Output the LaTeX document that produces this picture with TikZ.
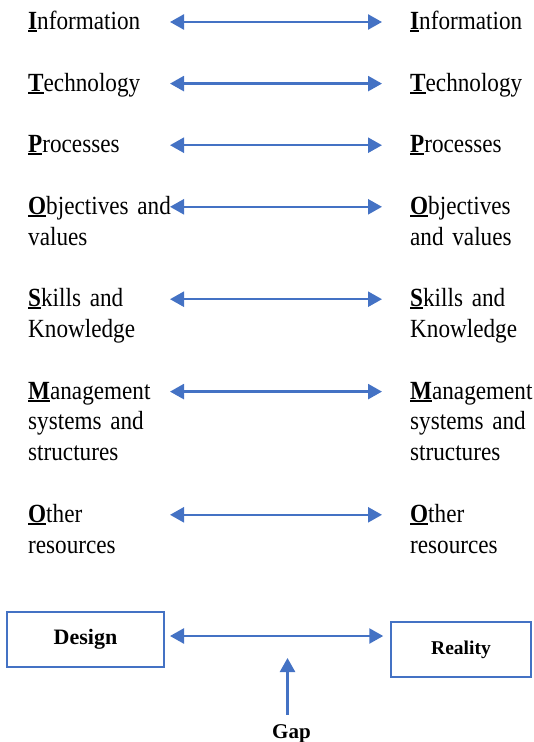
\documentclass[tikz,border=0pt]{standalone}
\usepackage{fontspec}
\setmainfont{Liberation Serif}[FakeStretch=0.885]
\newfontfamily\boxfont{Liberation Serif}
\usetikzlibrary{arrows.meta}
\definecolor{linkblue}{HTML}{4472C4}
\newcommand\keyletter[1]{\setbox0\hbox{\textbf{#1}}\rlap{\rule[-2.6pt]{\wd0}{2.2pt}}\box0}
\newcommand\itemfont{\fontsize{26.2}{30.8}\selectfont\spaceskip=5.6pt plus 1pt minus 1pt\relax}

\begin{document}
\begin{tikzpicture}
  [x=1pt,y=-1pt,
   item/.style={anchor=base west,inner sep=0,text width=165pt,
     font=\itemfont},
   link/.style={draw=linkblue,line width=2.5pt,
     {Triangle[length=14pt,width=15pt]}-{Triangle[length=14pt,width=15pt]}},
   box/.style={draw=linkblue,line width=2pt,minimum height=55pt,
     font=\boxfont\bfseries\fontsize{22}{26}\selectfont}]
  \useasboundingbox (0,0) rectangle (534,742);

  % design side
  \node[item] (l1) at (28,29.5)  {\keyletter{I}nformation};
  \node[item] (l2) at (28,91.1)  {\keyletter{T}echnology};
  \node[item] (l3) at (28,152.7) {\keyletter{P}rocesses};
  \node[item] (l4) at (28,214.3) {\keyletter{O}bjectives and\\values};
  \node[item] (l5) at (28,306.7) {\keyletter{S}kills and\\Knowledge};
  \node[item] (l6) at (28,399.1) {\keyletter{M}anagement\\systems and\\structures};
  \node[item] (l7) at (28,522.3) {\keyletter{O}ther\\resources};

  % reality side
  \node[item,text width=124pt] (r1) at (410,29.5)  {\keyletter{I}nformation};
  \node[item,text width=124pt] (r2) at (410,91.1)  {\keyletter{T}echnology};
  \node[item,text width=124pt] (r3) at (410,152.7) {\keyletter{P}rocesses};
  \node[item,text width=124pt] (r4) at (410,214.3) {\keyletter{O}bjectives\\and values};
  \node[item,text width=124pt] (r5) at (410,306.7) {\keyletter{S}kills and\\Knowledge};
  \node[item,text width=124pt] (r6) at (410,399.1) {\keyletter{M}anagement\\systems and\\structures};
  \node[item,text width=124pt] (r7) at (410,522.3) {\keyletter{O}ther\\resources};

  \foreach \i in {1,...,7}
    \draw[link,shorten >=28pt] ([xshift=142pt,yshift=7.5pt]l\i.base west) -- ([yshift=7.5pt]r\i.base west);

  % bottom
  \node[box,minimum width=157pt] (design) at (85.5,639.5) {Design};
  \node[box,minimum width=139.5pt,font=\boxfont\bfseries\fontsize{19.5}{24}\selectfont]
    (reality) at (461,649.5) {Reality};
  \node[inner sep=0,anchor=base,font=\boxfont\bfseries\fontsize{21}{25}\selectfont]
    (gap) at (291.5,738) {Gap};
  \coordinate (g1) at ([xshift=5pt,yshift=3.5pt]design.east);
  \coordinate (gaptip) at (287.5,658);

  \draw[link,shorten >=7pt] (g1) -- (g1 -| reality.west);
  \draw[link,-{Triangle[length=14pt,width=15pt]}] ([xshift=-4pt,yshift=9pt]gap.north) -- (gaptip);

\end{tikzpicture}
\end{document}
